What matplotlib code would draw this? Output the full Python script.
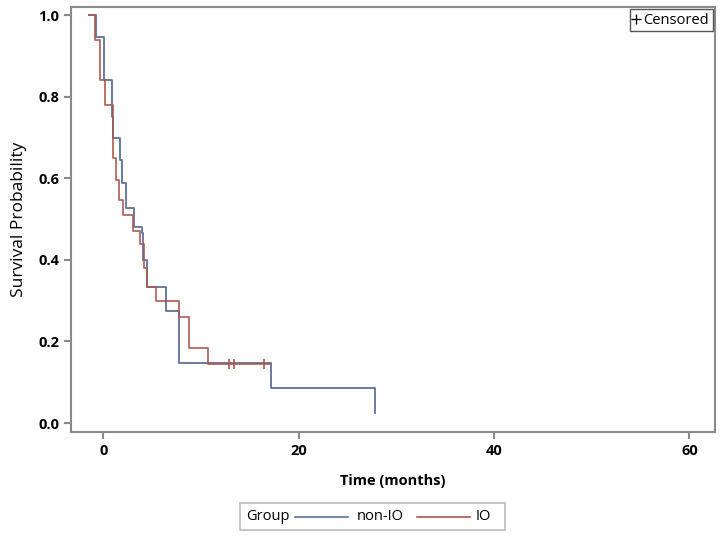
import numpy as np
import matplotlib.pyplot as plt
from matplotlib.lines import Line2D
from matplotlib.patches import Rectangle

plt.rcParams['font.family'] = ['Open Sans', 'DejaVu Sans']

# step curves: survival value holds from each time onward
time_nonio = [-1.5, -0.7, 0.1, 0.9, 1.0, 1.7, 1.9, 2.3, 3.1, 4.0, 4.1, 4.5, 6.4, 7.7, 17.2, 27.8]
surv_nonio = [1.0, 0.946, 0.84, 0.75, 0.70, 0.645, 0.588, 0.527, 0.48, 0.466, 0.40, 0.333, 0.275, 0.147, 0.086, 0.025]

time_io = [-1.5, -0.8, -0.3, 0.2, 1.0, 1.3, 1.6, 2.0, 3.0, 3.8, 4.2, 4.5, 5.4, 7.7, 8.8, 10.7, 17.2]
surv_io = [1.0, 0.94, 0.84, 0.78, 0.65, 0.595, 0.546, 0.51, 0.47, 0.44, 0.38, 0.333, 0.30, 0.26, 0.184, 0.145, 0.145]

# censored observations (IO group)
cens_time_io = [12.9, 13.4, 16.5]
cens_surv_io = [0.145, 0.145, 0.145]

blue = '#5f6f98'
red = '#a85850'
gray = '#8a8a8a'

fig = plt.figure(figsize=(7.25, 5.36), dpi=100)
ax = fig.add_axes([0.098, 0.194, 0.888, 0.793])

ax.step(time_nonio, surv_nonio, where='post', color=blue, lw=1.3)
ax.step(time_io, surv_io, where='post', color=red, lw=1.3, alpha=0.9)
ax.plot(cens_time_io, cens_surv_io, linestyle='none', marker='|', ms=7, mew=1.2, color=red)

ax.set_xlim(-3.3, 62.6)
ax.set_ylim(-0.022, 1.02)
ax.set_xticks([0, 20, 40, 60])
ax.set_yticks([0.0, 0.2, 0.4, 0.6, 0.8, 1.0])
ax.set_yticklabels(['0.0', '0.2', '0.4', '0.6', '0.8', '1.0'])
for s in ax.spines.values():
    s.set_color(gray)
    s.set_linewidth(1.5)
ax.tick_params(colors=gray, length=5, width=1.5, labelsize=10.5)
for lab in ax.get_xticklabels() + ax.get_yticklabels():
    lab.set_color('black')
    lab.set_fontweight('bold')

ax.set_xlabel('Time (months)', fontsize=10.5, fontweight='bold', labelpad=12)
ax.set_ylabel('Survival Probability', fontsize=12.5, labelpad=8)

cens_handle = Line2D([], [], marker='+', linestyle='none', color='black', ms=7)
leg = ax.legend([cens_handle], ['Censored'], loc='upper right', fontsize=10.5,
                handlelength=0.4, handletextpad=0.3, borderpad=0.25,
                borderaxespad=0.15, fancybox=False, framealpha=1)
leg.get_frame().set_edgecolor('#555555')
leg.get_frame().set_linewidth(1.0)

# group legend at the bottom
fig.patches.append(Rectangle((240 / 725, 1 - 530 / 536), 265 / 725, 27 / 536,
                             transform=fig.transFigure, facecolor='white',
                             edgecolor='#bbbbbb', lw=1.2))
ly = 1 - 517 / 536
fig.text(246 / 725, ly, 'Group', fontsize=10.5, va='center', ha='left')
fig.lines.append(Line2D([295 / 725, 348 / 725], [ly, ly], transform=fig.transFigure, color=blue, lw=1.2))
fig.text(357 / 725, ly, 'non-IO', fontsize=10.5, va='center', ha='left')
fig.lines.append(Line2D([417 / 725, 470 / 725], [ly, ly], transform=fig.transFigure, color=red, lw=1.2))
fig.text(476 / 725, ly, 'IO', fontsize=10.5, va='center', ha='left')

fig.savefig('out.png', dpi=100)
